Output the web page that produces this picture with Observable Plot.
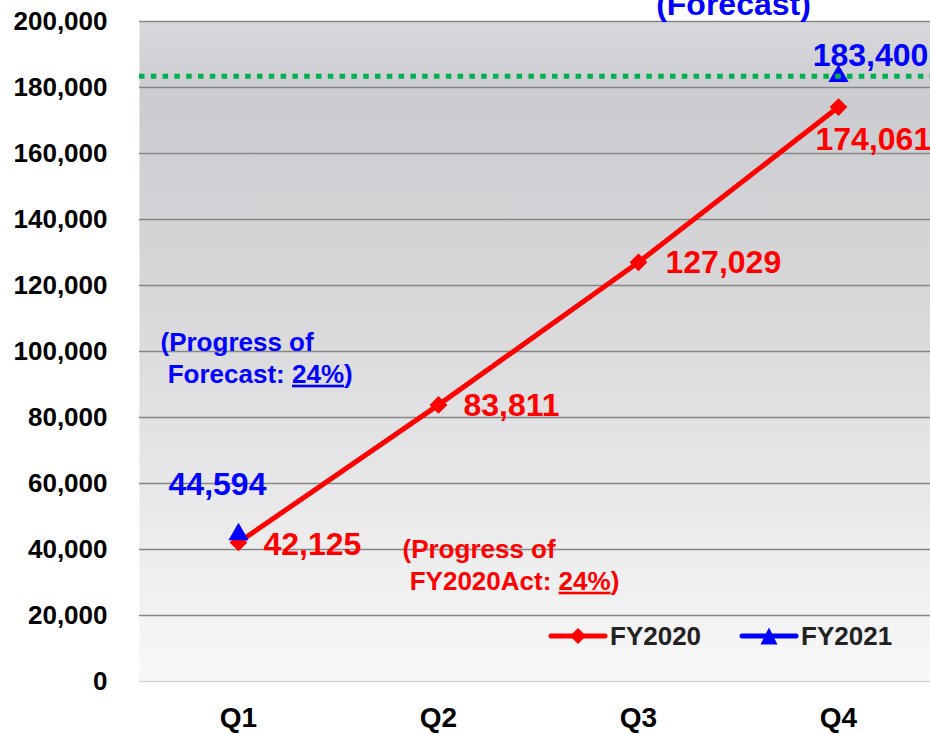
<!DOCTYPE html>
<html><head><meta charset="utf-8">
<script src="https://cdn.jsdelivr.net/npm/d3@7"></script>
<script src="https://cdn.jsdelivr.net/npm/@observablehq/plot@0.6"></script>
<style>
body{margin:0;background:#fff;font-family:"Liberation Sans",Arial,sans-serif;}
#wrap{position:relative;width:930px;height:734px;overflow:hidden;}
.legend{position:absolute;left:548px;top:621px;height:30px;display:flex;align-items:center;font-weight:bold;font-size:26px;color:#222;line-height:30px;}
.legend svg{display:block}
</style></head><body><div id="wrap"></div>
<script>
const quarters = ["Q1", "Q2", "Q3", "Q4"];
const fy2020 = [42125, 83811, 127029, 174061];
const fy2021Quarters = ["Q1", "Q4"];
const fy2021 = [44594, 183400];
const forecastValue = 183400;
const yTicks = [0, 20000, 40000, 60000, 80000, 100000, 120000, 140000, 160000, 180000, 200000];
const seriesNames = ["FY2020", "FY2021"];
const forecastTitle = "(Forecast)";
const progressForecast = "(Progress of\n\u00a0Forecast: 24%)";
const progressAct = "(Progress of\n\u00a0FY2020Act: 24%)";

const d2020 = quarters.map((q, i) => ({q, v: fy2020[i]}));
const d2021 = fy2021Quarters.map((q, i) => ({q, v: fy2021[i]}));
const fmt = d3.format(",");
const RED = "#ff0000", BLUE = "#0000ff";
const font = {fontWeight: "bold", fontFamily: "Liberation Sans, Arial, sans-serif"};

const defs = () => {
  const d = d3.create("svg:defs");
  const g = d.append("linearGradient").attr("id", "bg").attr("x1", 0).attr("y1", 0).attr("x2", 0).attr("y2", 1);
  [[0, "#d8d8dc"], [0.12, "#cbcccf"], [0.45, "#d9d9dc"], [1, "#f8f8f8"]].forEach(([o, c]) =>
    g.append("stop").attr("offset", o).attr("stop-color", c));
  return d.node();
};

const label = (datum, color, opts) => Plot.text([datum], {x: "q", y: "v", text: d => fmt(d.v), fill: color, fontSize: 32, ...font, ...opts});

const chart = Plot.plot({
  width: 930,
  height: 734,
  marginLeft: 139,
  marginRight: 0,
  marginTop: 21,
  marginBottom: 53,
  style: {color: "#000", background: "transparent", overflow: "visible"},
  x: {type: "point", domain: quarters, range: [238, 838], padding: 0, label: null},
  y: {domain: [0, 200000], label: null},
  marks: [
    defs,
    Plot.frame({fill: "url(#bg)", stroke: "none"}),
    Plot.ruleY(yTicks.filter(d => d > 0), {stroke: "#868686", strokeWidth: 1.4}),
    Plot.ruleY([0], {stroke: "#d2d2d2", strokeWidth: 1.5}),
    Plot.axisY({ticks: yTicks, tickFormat: fmt, tickSize: 0, tickPadding: 32, fontSize: 26, ...font}),
    Plot.axisX({tickSize: 0, tickPadding: 26, fontSize: 28, ...font}),
    Plot.line(d2020, {x: "q", y: "v", stroke: RED, strokeWidth: 5}),
    Plot.dot(d2020, {x: "q", y: "v", symbol: "diamond2", r: 8, fill: RED, stroke: "none"}),
    Plot.dot(d2021, {x: "q", y: "v", symbol: "triangle", r: 7.5, fill: BLUE, stroke: "none"}),
    Plot.ruleY([forecastValue], {stroke: "#00b050", strokeWidth: 5, strokeDasharray: "5.5,6.3"}),
    label(d2020[0], RED, {dx: 25, dy: 2, textAnchor: "start"}),
    label(d2020[1], RED, {dx: 25, dy: 1, textAnchor: "start"}),
    label(d2020[2], RED, {dx: 27, dy: 0, textAnchor: "start"}),
    label(d2020[3], RED, {dx: -23, dy: 33, textAnchor: "start"}),
    label(d2021[0], BLUE, {dx: -21, dy: -50, textAnchor: "middle"}),
    label(d2021[1], BLUE, {dx: 32, dy: -21, textAnchor: "middle"}),
    Plot.text([d2021[1]], {x: "q", y: () => 200000, text: () => forecastTitle, dx: -105, dy: -7, lineAnchor: "bottom", fill: BLUE, fontSize: 32, ...font}),
    Plot.text([d2020[0]], {x: "q", y: () => 100000, text: () => progressForecast, dx: -78, dy: 5, lineAnchor: "middle", lineHeight: 1.23, textAnchor: "start", fill: BLUE, fontSize: 26, ...font}),
    Plot.text([d2020[1]], {x: "q", y: () => 40000, text: () => progressAct, dx: -36, dy: 14, lineAnchor: "middle", lineHeight: 1.23, textAnchor: "start", fill: RED, fontSize: 26, ...font})
  ]
});

// underline the percentages
d3.select(chart).selectAll("tspan").each(function() {
  const t = this.textContent;
  const m = t.match(/^(.*?)(24%)(\).*)$/);
  if (!m) return;
  const sel = d3.select(this);
  sel.text(null);
  sel.append("tspan").text(m[1]);
  sel.append("tspan").style("text-decoration", "underline").text(m[2]);
  sel.append("tspan").text(m[3]);
});

const wrap = document.getElementById("wrap");
wrap.appendChild(chart);

const legend = document.createElement("div");
legend.className = "legend";
legend.innerHTML = `
<svg width="60" height="30"><line x1="3" y1="15" x2="57" y2="15" stroke="${RED}" stroke-width="5" stroke-linecap="round"/><path d="M30,7 L38,15 L30,23 L22,15Z" fill="${RED}"/></svg>
<span style="margin-left:2px">${seriesNames[0]}</span>
<svg width="60" height="30" style="margin-left:38px"><line x1="3" y1="15" x2="57" y2="15" stroke="${BLUE}" stroke-width="5" stroke-linecap="round"/><path d="M30,6.5 L38.5,23.5 L21.5,23.5Z" fill="${BLUE}"/></svg>
<span style="margin-left:2px">${seriesNames[1]}</span>`;
wrap.appendChild(legend);
</script></body></html>
